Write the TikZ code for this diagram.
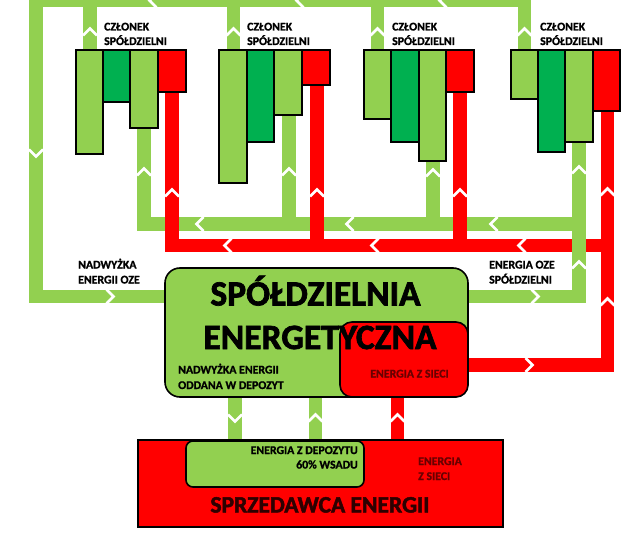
\documentclass[tikz,border=0pt]{standalone}
\usepackage{fontspec}
\setmainfont{Carlito}[BoldFont={Carlito Bold},BoldFeatures={FakeBold=1.2}]
\newfontfamily\heavyfont{Carlito Bold}[FakeBold=2]
\definecolor{lg}{HTML}{92D050}
\definecolor{dg}{HTML}{00B050}
\definecolor{rd}{HTML}{FF0000}
\definecolor{dred}{RGB}{105,0,0}
\definecolor{ddred}{RGB}{45,0,0}
\newcommand\chup[2]{\draw[chev] ({#1-7},{#2+3.5}) -- (#1,{#2-3.5}) -- ({#1+7},{#2+3.5});}
\newcommand\chdown[2]{\draw[chev] ({#1-7},{#2-3.5}) -- (#1,{#2+3.5}) -- ({#1+7},{#2-3.5});}
\newcommand\chleft[2]{\draw[chev] ({#1+3.5},{#2-7}) -- ({#1-3.5},#2) -- ({#1+3.5},{#2+7});}
\newcommand\chright[2]{\draw[chev] ({#1-3.5},{#2-7}) -- ({#1+3.5},#2) -- ({#1-3.5},{#2+7});}
\newcommand\colbox[4]{\draw[barline,fill=#4] (#1,50) rectangle (#2,#3);}
\begin{document}
\begin{tikzpicture}[x=1pt,y=-1pt,
  gband/.style={draw=lg,line width=13.5pt,line join=miter},
  rband/.style={draw=rd,line width=13.5pt,line join=miter},
  chev/.style={draw=white,line width=2.6pt},
  barline/.style={draw=black,line width=1.5pt},
  lbl/.style={font=\bfseries\fontsize{11.8}{13}\selectfont,inner sep=0pt},
  rlbl/.style={lbl,text=dred},
  big/.style={font=\heavyfont\fontsize{35.5}{38}\selectfont,inner sep=0pt},
  boxline/.style={draw=black,line width=1.6pt},
]
\useasboundingbox (0,0) rectangle (644,545);
\clip (0,0) rectangle (644,545);
\fill[white] (0,0) rectangle (644,545);

% green collection network (members -> cooperative)
\draw[gband] (165,296.5) -- (36,296.5) -- (36,0.5) -- (524.5,0.5) -- (524.5,50);
\draw[gband] (90,0.5) -- (90,50);
\draw[gband] (233.5,0.5) -- (233.5,50);
\draw[gband] (377.5,0.5) -- (377.5,50);

% green return network (cooperative -> members)
\draw[gband] (144,128) -- (144,224) -- (579,224);
\draw[gband] (289,115) -- (289,224);
\draw[gband] (433,161) -- (433,224);

% red network
\draw[rband] (172,92) -- (172,245.5) -- (607.5,245.5);
\draw[rband] (317,85) -- (317,245.5);
\draw[rband] (460,92) -- (460,245.5);
\draw[rband] (468,365) -- (607.5,365) -- (607.5,111);

% member 4 return branch over the red line
\draw[gband] (468,296.5) -- (579,296.5) -- (579,142);

% links cooperative <-> seller
\draw[gband] (235,397) -- (235,441);
\draw[gband] (315.5,397) -- (315.5,441);
\draw[rband] (397.5,397) -- (397.5,440);

% chevrons
\chdown{36}{153}
\chright{110}{296.5}
\chleft{153}{0.5}\chleft{300}{0.5}\chleft{443}{0.5}
\chup{90}{32}\chup{233.5}{32}\chup{377.5}{32}\chup{524.5}{32}
\chup{144}{172}\chup{289}{172}\chup{433}{173}\chup{579}{170}\chup{579}{265}
\chleft{200}{224}\chleft{350}{224}\chleft{494}{224}
\chright{535}{296.5}
\chdown{235}{418}\chup{315.5}{418}
\chup{172}{193}\chup{317}{193}\chup{460}{193}\chup{607.5}{192}\chup{607.5}{302}
\chleft{228}{245.5}\chleft{375}{245.5}\chleft{522}{245.5}
\chright{529}{365}
\chup{397.5}{418}

% member bars
\colbox{76}{103}{154}{lg}\colbox{103}{130}{102}{dg}\colbox{130}{158}{128}{lg}\colbox{158}{186}{92}{rd}
\colbox{219}{247}{183}{lg}\colbox{247}{274}{142}{dg}\colbox{274}{302}{115}{lg}\colbox{302}{330}{85}{rd}
\colbox{364}{391}{119}{lg}\colbox{391}{419}{142}{dg}\colbox{419}{446}{161}{lg}\colbox{446}{474}{92}{rd}
\colbox{511}{538}{99}{lg}\colbox{538}{565}{152}{dg}\colbox{565}{593}{142}{lg}\colbox{593}{620}{111}{rd}

% member labels
\foreach \mx/\nm in {104/m1,247/m2,392/m3,540/m4}{
  \node[lbl,anchor=base west] (\nm a) at (\mx,30.5) {CZŁONEK};
  \node[lbl,anchor=base west] (\nm b) at (\mx,45) {SPÓŁDZIELNI};
}

% flow labels
\node[lbl,anchor=base west] (sur1) at (78,268.5) {NADWYŻKA};
\node[lbl,anchor=base west] (sur2) at (78,283.5) {ENERGII OZE};
\node[lbl,anchor=base west] (oze1) at (489,268.5) {ENERGIA OZE};
\node[lbl,anchor=base west] (oze2) at (489,283.5) {SPÓŁDZIELNI};

% cooperative
\node[boxline,fill=lg,rounded corners=15pt,minimum width=303pt,minimum height=129pt] (coop) at (316.5,332.5) {};
\node[boxline,fill=rd,rounded corners=12pt,minimum width=128pt,minimum height=75pt] (grid) at (404,359.5) {};
\node[big,anchor=base] (t1) at (315.5,305.5) {SPÓŁDZIELNIA};
\node[big,anchor=base] (t2) at (320,349) {ENERGETYCZNA};
\node[lbl,anchor=base west] (dep1) at (178,373.5) {NADWYŻKA ENERGII};
\node[lbl,anchor=base west] (dep2) at (178,389) {ODDANA W DEPOZYT};
\node[rlbl,anchor=base] (gridt) at (409.5,377.5) {ENERGIA Z SIECI};

% seller
\node[boxline,fill=rd,minimum width=365pt,minimum height=87pt] (seller) at (320.5,483.5) {};
\node[boxline,fill=lg,rounded corners=7pt,minimum width=178pt,minimum height=46pt] (depo) at (275,464) {};
\node[lbl,anchor=base east] (dz1) at (358,454) {ENERGIA Z DEPOZYTU};
\node[lbl,anchor=base east] (dz2) at (358,468.5) {60\% WSADU};
\node[rlbl,anchor=base west] (es1) at (418,465) {ENERGIA};
\node[rlbl,anchor=base west] (es2) at (418,480) {Z SIECI};
\node[font=\heavyfont\fontsize{23.5}{26}\selectfont,inner sep=0pt,text=ddred,anchor=base] (st) at (320,512.5) {SPRZEDAWCA ENERGII};
\end{tikzpicture}
\end{document}
